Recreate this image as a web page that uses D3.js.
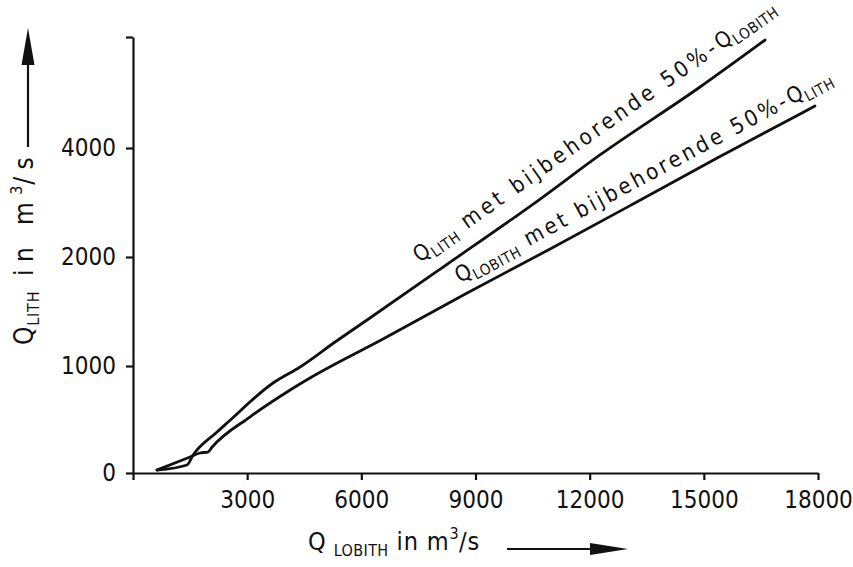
<!DOCTYPE html>
<html>
<head>
<meta charset="utf-8">
<script src="https://cdn.jsdelivr.net/npm/d3@7"></script>
<style>
  html, body { margin: 0; padding: 0; background: #fff; }
  svg { display: block; }
  text { font-family: 'DejaVu Sans Condensed', 'DejaVu Sans', sans-serif; font-stretch: condensed; fill: #111; }
</style>
</head>
<body>
<svg id="chart" width="853" height="567"></svg>
<script>
// Discharge at Lobith (x) and Lith (y), both in m3/s
const xTicks = [0, 3000, 6000, 9000, 12000, 15000, 18000];
const yTicks = [0, 1000, 2000, 4000, 8000];   // top tick drawn without label

// Q_LITH with the matching 50% Q_LOBITH
const lithCurve = [
  [630, 28], [1420, 75], [1580, 168], [2210, 383], [2470, 467],
  [3680, 841], [4390, 991], [5310, 1220], [6150, 1422], [8150, 1908],
  [10700, 3064], [12270, 3872], [14900, 6198], [16610, 7892]
];
// Q_LOBITH with the matching 50% Q_LITH
const lobithCurve = [
  [630, 28], [1500, 150], [1760, 187], [1970, 196], [2080, 243],
  [3070, 523], [4130, 776], [4650, 888], [6570, 1248], [8780, 1670],
  [10960, 2147], [13140, 2972], [15350, 3817], [17530, 5225], [17920, 5514]
];

const svg = d3.select('#chart');

const x = d3.scaleLinear().domain([0, 18000]).range([133, 818]);
// stretched ordinate: equal spacing between the labelled steps
const y = d3.scaleLinear().domain(yTicks).range([473, 366, 257, 148, 37]);

// axes
const xAxis = d3.axisBottom(x)
  .tickValues(xTicks)
  .tickFormat(d => d === 0 ? '' : d)
  .tickSize(7).tickSizeOuter(0).tickPadding(11);
const yAxis = d3.axisLeft(y)
  .tickValues(yTicks)
  .tickFormat(d => d === 8000 ? '' : d)
  .tickSize(7).tickSizeOuter(0).tickPadding(10);

const gx = svg.append('g').attr('transform', `translate(0,${y(0)})`).call(xAxis);
const gy = svg.append('g').attr('transform', `translate(${x(0)},0)`).call(yAxis);
[gx, gy].forEach(g => {
  g.selectAll('path.domain').attr('stroke', '#111').attr('stroke-width', 2.2);
  g.selectAll('.tick line').attr('stroke', '#111').attr('stroke-width', 2.2);
  g.selectAll('.tick text').style('font-size', '24px').attr('fill', '#111');
});

// curves
const line = d3.line().x(d => x(d[0])).y(d => y(d[1])).curve(d3.curveMonotoneX);
[lithCurve, lobithCurve].forEach(c => {
  svg.append('path').datum(c)
    .attr('d', line)
    .attr('fill', 'none')
    .attr('stroke', '#111')
    .attr('stroke-width', 2.8)
    .attr('stroke-linejoin', 'round')
    .attr('stroke-linecap', 'round');
});

// rich text helper: parts are [string, kind]; kind 'n' normal, 'q' tight normal, 'sub', 'sup'
function richText(parent, parts, size, subSize) {
  const t = parent.append('text').style('font-size', size + 'px');
  let shift = 0;
  parts.forEach(([s, kind]) => {
    const target = kind === 'sub' ? Math.round(size * 0.22) : kind === 'sup' ? -Math.round(size * 0.42) : 0;
    const sp = t.append('tspan').text(s).attr('dy', target - shift).attr('class', kind);
    if (kind === 'sub' || kind === 'sup') sp.style('font-size', subSize + 'px');
    shift = target;
  });
  return t;
}
// spread the normal-size characters so the whole string spans `target` px
function fitLength(t, target, tight) {
  t.selectAll('tspan.sub, tspan.sup, tspan.q').style('letter-spacing', tight + 'px');
  const len = t.node().getComputedTextLength();
  let n = 0;
  t.selectAll('tspan.n').each(function () { n += this.textContent.length; });
  t.selectAll('tspan.n').style('letter-spacing', Math.max(0, (target - len) / n) + 'px');
}

// labels set parallel to a stretch of their curve
function curveLabel(series, i, j, along, offset, parts, length) {
  const p0 = [x(series[i][0]), y(series[i][1])];
  const p1 = [x(series[j][0]), y(series[j][1])];
  const a = Math.atan2(p1[1] - p0[1], p1[0] - p0[0]);
  const c = Math.cos(a), s = Math.sin(a);
  const sx = p0[0] + c * along + s * offset;
  const sy = p0[1] + s * along - c * offset;
  const g = svg.append('g').attr('transform', `translate(${sx},${sy}) rotate(${a * 180 / Math.PI})`);
  fitLength(richText(g, parts, 22, 15), length, 0.6);
}

curveLabel(lithCurve, 9, 13, -17, 17,
  [['Q', 'q'], ['LITH', 'sub'], [' met bijbehorende 50%-', 'n'], ['Q', 'q'], ['LOBITH', 'sub']], 438);
curveLabel(lobithCurve, 9, 14, -2, 12,
  [['Q', 'q'], ['LOBITH', 'sub'], [' met bijbehorende 50%-', 'n'], ['Q', 'q'], ['LITH', 'sub']], 425);

// axis titles
const yTitle = svg.append('g').attr('transform', 'translate(33,345) rotate(-90)');
fitLength(richText(yTitle, [['Q', 'q'], ['LITH', 'sub'], [' in m', 'n'], ['3', 'sup'], ['/s', 'n']], 26, 16), 195, 0.8);

const xTitle = svg.append('g').attr('transform', 'translate(308,550)');
fitLength(richText(xTitle, [['Q ', 'q'], ['LOBITH', 'sub'], [' in m', 'n'], ['3', 'sup'], ['/s', 'n']], 25, 16), 172, 0.4);

// direction arrows next to the titles
svg.append('line').attr('x1', 28).attr('y1', 147).attr('x2', 28).attr('y2', 60)
  .attr('stroke', '#111').attr('stroke-width', 2.2);
svg.append('path').attr('d', 'M28,28 L21.5,65 L34.5,65 Z').attr('fill', '#111');

svg.append('line').attr('x1', 507).attr('y1', 549).attr('x2', 596).attr('y2', 549)
  .attr('stroke', '#111').attr('stroke-width', 2.2);
svg.append('path').attr('d', 'M628,549 L590,543 L590,555 Z').attr('fill', '#111');
</script>
</body>
</html>
